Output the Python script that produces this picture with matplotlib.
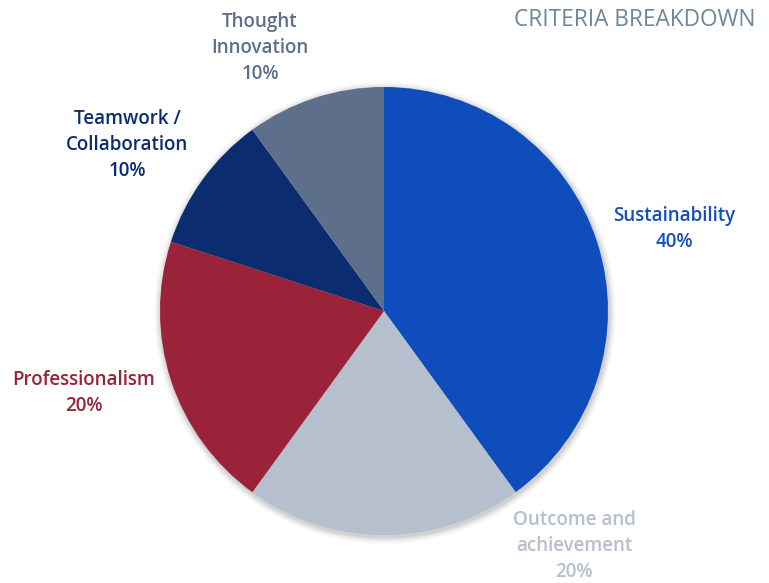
import matplotlib
matplotlib.use('Agg')
import matplotlib.pyplot as plt
from matplotlib.patches import Circle

# data, clockwise from 12 o'clock
labels = ['Sustainability', 'Outcome and\nachievement', 'Professionalism',
          'Teamwork /\nCollaboration', 'Thought\nInnovation']
shares = [40, 20, 20, 10, 10]
colors = ['#0F4DBC', '#B5BFCD', '#9B2339', '#0B2D6F', '#5D6F8A']
text_colors = ['#1550BE', '#B5BFCE', '#9B2339', '#0B2D6F', '#5D6F8A']

# label anchor points in pixels (x, y from top)
label_pos = [(674, 229), (574, 546), (84, 393), (127, 145), (260, 48)]

W, H = 769, 583
center = (384, H - 311)
radius = 224

plt.rcParams['font.family'] = ['Open Sans', 'DejaVu Sans']

fig = plt.figure(figsize=(W / 100, H / 100), dpi=100)
ax = fig.add_axes([0, 0, 1, 1])

# soft shadow behind the pie
for i, a in enumerate([0.05, 0.05, 0.04, 0.03, 0.02]):
    ax.add_patch(Circle((center[0] + 1, center[1] - 2), radius + 1 + i * 1.5,
                        color='black', alpha=a, lw=0, zorder=0))

ax.pie(shares, colors=colors, startangle=90, counterclock=False,
       center=center, radius=radius, frame=True,
       wedgeprops=dict(linewidth=0, zorder=1))
ax.set_xlim(0, W)
ax.set_ylim(0, H)
ax.set_aspect('equal')
ax.axis('off')

for lab, val, (x, y), c in zip(labels, shares, label_pos, text_colors):
    ax.text(x, H - y, f'{lab}\n{val}%', color=c, fontsize=13.5,
            fontweight='semibold', ha='center', va='center',
            linespacing=1.37, zorder=3)

ax.text(755, H - 20.5, 'CRITERIA BREAKDOWN', color='#6F879A', fontsize=16.3,
        fontweight='medium', ha='right', va='center')

fig.savefig('out.png', dpi=100)
